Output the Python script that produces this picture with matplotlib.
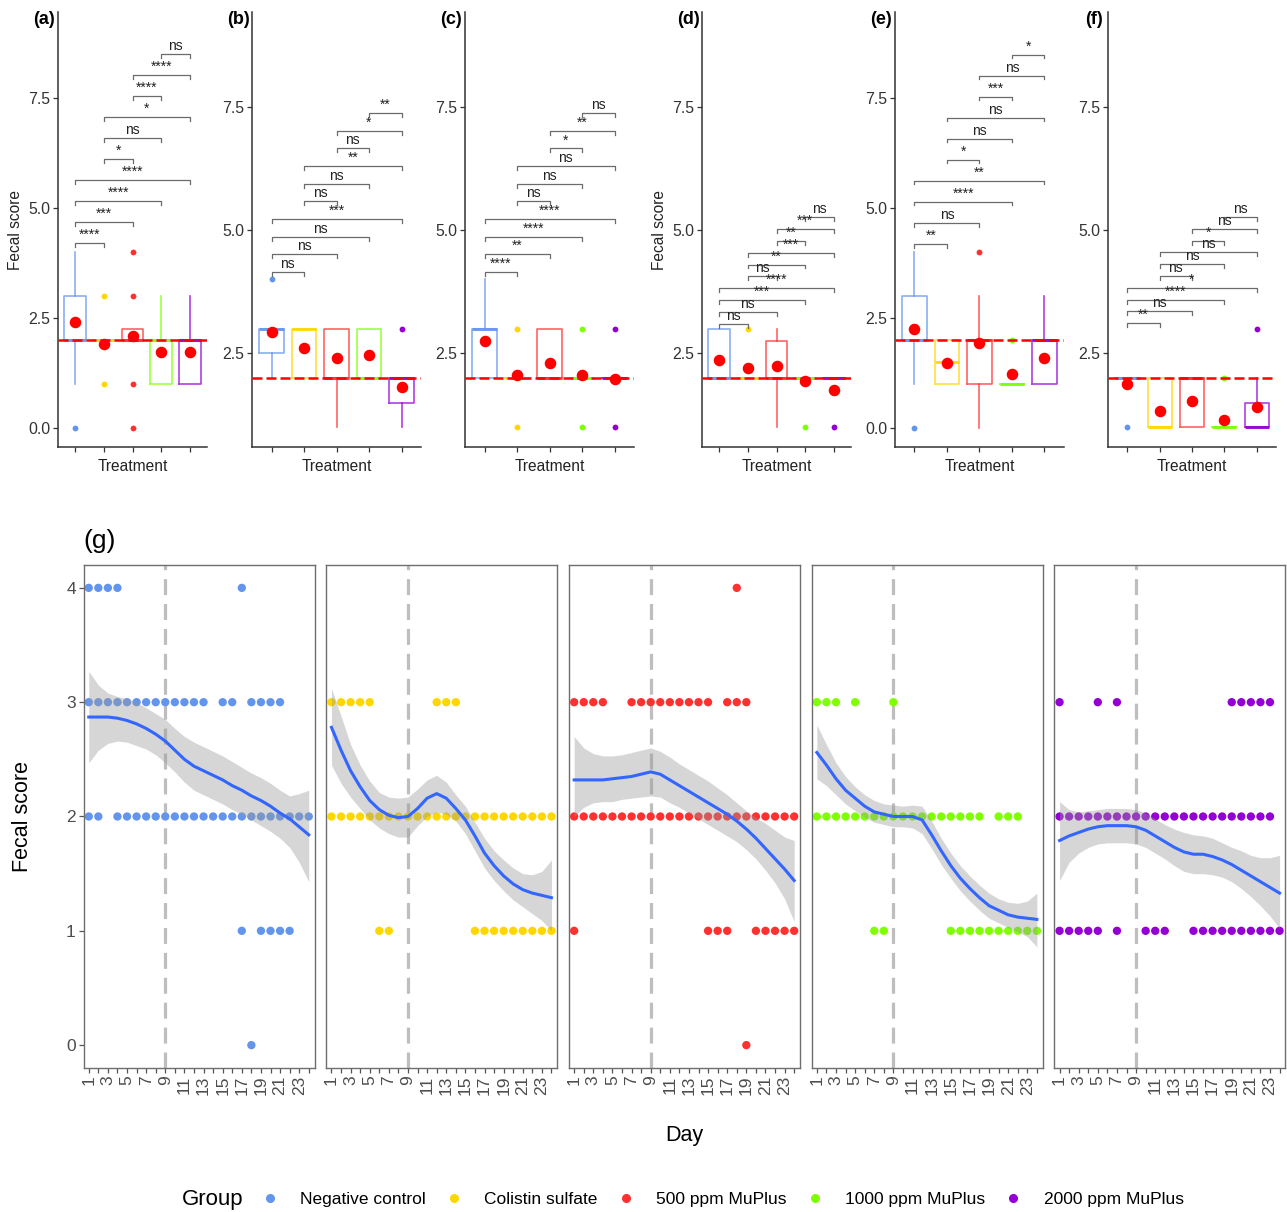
import numpy as np
import matplotlib.pyplot as plt
from matplotlib.lines import Line2D

plt.rcParams['font.family'] = ['Liberation Sans', 'DejaVu Sans']

W, H = 1287, 1212

groups = ['Negative control', 'Colistin sulfate', '500 ppm MuPlus', '1000 ppm MuPlus', '2000 ppm MuPlus']
colors = ['#6495ED', '#FFD700', '#FF3030', '#7FFF00', '#9400D3']

# pairwise comparisons, same order in every panel
pairs = [(1, 2), (1, 3), (1, 4), (1, 5), (2, 3), (2, 4), (2, 5), (3, 4), (3, 5), (4, 5)]

# ---- box plot summaries, panels (a)-(f) ----
q1_a = [2, 2, 2, 1, 1]
med_a = [2, 2, 2, 2, 2]
q3_a = [3, 2, 2.25, 2, 2]
lo_a = [1, 2, 2, 1, 1]
hi_a = [4, 2, 2.25, 3, 3]
mean_a = [2.42, 1.90, 2.08, 1.73, 1.72]
fliers_a = [[0], [1, 3], [0, 1, 3, 4], [], []]
sig_a = ['****', '***', '****', '****', '*', 'ns', '*', '****', '****', 'ns']

q1_b = [2.5, 2, 2, 2, 1.5]
med_b = [3, 3, 2, 2, 2]
q3_b = [3, 3, 3, 3, 2]
lo_b = [2, 2, 1, 2, 1]
hi_b = [3, 3, 3, 3, 2]
mean_b = [2.94, 2.60, 2.40, 2.47, 1.81]
fliers_b = [[4], [], [], [], [3]]
sig_b = ['ns', 'ns', 'ns', '***', 'ns', 'ns', '**', 'ns', '*', '**']

q1_c = [2, 2, 2, 2, 2]
med_c = [3, 2, 2, 2, 2]
q3_c = [3, 2, 3, 2, 2]
lo_c = [2, 2, 2, 2, 2]
hi_c = [4, 2, 3, 2, 2]
mean_c = [2.74, 2.05, 2.31, 2.05, 1.98]
fliers_c = [[], [1, 3], [], [1, 3], [1, 3]]
sig_c = ['****', '**', '****', '****', 'ns', 'ns', 'ns', '*', '**', 'ns']

q1_d = [2, 2, 2, 2, 2]
med_d = [2, 2, 2, 2, 2]
q3_d = [3, 2, 2.75, 2, 2]
lo_d = [2, 2, 1, 2, 2]
hi_d = [3, 2, 3, 2, 2]
mean_d = [2.36, 2.20, 2.24, 1.93, 1.76]
fliers_d = [[], [3], [], [1], [1]]
sig_d = ['ns', 'ns', '***', '****', 'ns', '**', '***', '**', '***', 'ns']

q1_e = [2, 1, 1, 1, 1]
med_e = [2, 1.5, 2, 1, 2]
q3_e = [3, 2, 2, 1, 2]
lo_e = [1, 1, 0, 1, 1]
hi_e = [4, 2, 3, 1, 3]
mean_e = [2.26, 1.48, 1.94, 1.23, 1.60]
fliers_e = [[0], [], [4], [2], []]
sig_e = ['**', 'ns', '****', '**', '*', 'ns', 'ns', '***', 'ns', '*']

q1_f = [2, 1, 1, 1, 1]
med_f = [2, 1, 2, 1, 1]
q3_f = [2, 2, 2, 1, 1.5]
lo_f = [2, 1, 1, 1, 1]
hi_f = [2, 2, 2, 1, 2]
mean_f = [1.88, 1.34, 1.54, 1.15, 1.42]
fliers_f = [[1], [], [], [2], [3]]
sig_f = ['**', 'ns', '****', '*', 'ns', 'ns', 'ns', '*', 'ns', 'ns']

# ---- daily scores, panel (g): days on which a score was seen ----
days = np.arange(1, 25)

nc_4 = [1, 2, 3, 4, 17]
nc_3 = [1, 2, 3, 4, 5, 6, 7, 8, 9, 10, 11, 12, 13, 15, 16, 18, 19, 20, 21]
nc_2 = [1, 2, 4, 5, 6, 7, 8, 9, 10, 11, 12, 13, 14, 15, 16, 17, 18, 19, 20, 21, 22, 23, 24]
nc_1 = [17, 19, 20, 21, 22]
nc_0 = [18]

cs_3 = [1, 2, 3, 4, 5, 12, 13, 14]
cs_2 = [1, 2, 3, 4, 5, 6, 7, 8, 9, 10, 11, 12, 13, 14, 15, 16, 17, 18, 19, 20, 21, 22, 23, 24]
cs_1 = [6, 7, 16, 17, 18, 19, 20, 21, 22, 23, 24]

m500_4 = [18]
m500_3 = [1, 2, 3, 4, 7, 8, 9, 10, 11, 12, 13, 14, 15, 17, 18, 19]
m500_2 = [1, 2, 3, 4, 5, 6, 7, 8, 9, 10, 11, 12, 13, 14, 15, 16, 17, 18, 19, 20, 21, 22, 23, 24]
m500_1 = [1, 15, 16, 17, 20, 21, 22, 23, 24]
m500_0 = [19]

m1000_3 = [1, 2, 3, 5, 9]
m1000_2 = [1, 2, 3, 4, 5, 6, 7, 8, 9, 10, 11, 12, 13, 14, 15, 16, 17, 18, 20, 21, 22]
m1000_1 = [7, 8, 15, 16, 17, 18, 19, 20, 21, 22, 23, 24]

m2000_3 = [1, 5, 7, 19, 20, 21, 22, 23]
m2000_2 = [1, 2, 3, 4, 5, 6, 7, 8, 9, 10, 11, 12, 13, 14, 15, 16, 17, 18, 19, 20, 21, 22, 23]
m2000_1 = [1, 2, 3, 4, 5, 7, 10, 11, 12, 15, 16, 17, 18, 19, 20, 21, 22, 23, 24]

# loess fit and its confidence band, read per day
fit_nc = [2.87, 2.87, 2.87, 2.86, 2.84, 2.81, 2.77, 2.72, 2.66, 2.58, 2.50, 2.44,
          2.40, 2.36, 2.32, 2.27, 2.23, 2.18, 2.14, 2.09, 2.03, 1.98, 1.91, 1.84]
up_nc = [3.27, 3.15, 3.08, 3.05, 3.03, 3.00, 2.95, 2.90, 2.85, 2.77, 2.70, 2.65,
         2.61, 2.57, 2.53, 2.48, 2.43, 2.38, 2.34, 2.29, 2.23, 2.18, 2.20, 2.23]
lo_nc = [2.47, 2.58, 2.64, 2.66, 2.65, 2.62, 2.59, 2.54, 2.47, 2.39, 2.30, 2.23,
         2.19, 2.15, 2.11, 2.06, 2.02, 1.97, 1.92, 1.87, 1.81, 1.73, 1.60, 1.43]

fit_cs = [2.78, 2.58, 2.40, 2.26, 2.14, 2.06, 2.01, 1.99, 2.00, 2.07, 2.16, 2.20,
          2.16, 2.07, 1.97, 1.83, 1.68, 1.57, 1.48, 1.41, 1.36, 1.33, 1.31, 1.29]
up_cs = [3.12, 2.88, 2.63, 2.45, 2.31, 2.21, 2.17, 2.16, 2.17, 2.24, 2.32, 2.36,
         2.30, 2.19, 2.09, 1.95, 1.81, 1.70, 1.62, 1.55, 1.50, 1.49, 1.52, 1.62]
lo_cs = [2.45, 2.29, 2.17, 2.07, 1.97, 1.90, 1.85, 1.82, 1.82, 1.92, 2.00, 2.04,
         2.02, 1.96, 1.85, 1.70, 1.55, 1.44, 1.35, 1.27, 1.21, 1.15, 1.09, 1.00]

fit_500 = [2.32, 2.32, 2.32, 2.32, 2.33, 2.34, 2.35, 2.37, 2.39, 2.37, 2.32, 2.27,
           2.22, 2.17, 2.12, 2.07, 2.02, 1.96, 1.89, 1.81, 1.72, 1.63, 1.54, 1.44]
up_500 = [2.70, 2.60, 2.55, 2.53, 2.53, 2.54, 2.56, 2.58, 2.60, 2.57, 2.52, 2.46,
          2.41, 2.36, 2.31, 2.25, 2.19, 2.12, 2.05, 1.99, 1.94, 1.88, 1.82, 1.79]
lo_500 = [2.00, 2.08, 2.12, 2.13, 2.13, 2.15, 2.16, 2.17, 2.18, 2.17, 2.12, 2.08,
          2.03, 1.98, 1.93, 1.88, 1.83, 1.78, 1.71, 1.63, 1.53, 1.42, 1.28, 1.08]

fit_1000 = [2.56, 2.45, 2.33, 2.23, 2.16, 2.09, 2.04, 2.02, 2.00, 2.00, 2.00, 1.97,
            1.84, 1.70, 1.57, 1.46, 1.37, 1.29, 1.22, 1.18, 1.14, 1.12, 1.11, 1.10]
up_1000 = [2.80, 2.63, 2.47, 2.35, 2.26, 2.19, 2.14, 2.11, 2.10, 2.09, 2.10, 2.09,
           1.96, 1.81, 1.68, 1.57, 1.48, 1.40, 1.33, 1.28, 1.25, 1.24, 1.26, 1.33]
lo_1000 = [2.33, 2.27, 2.19, 2.11, 2.05, 1.99, 1.95, 1.93, 1.91, 1.91, 1.90, 1.85,
           1.72, 1.58, 1.46, 1.35, 1.26, 1.18, 1.11, 1.07, 1.03, 0.99, 0.95, 0.86]

fit_2000 = [1.79, 1.83, 1.86, 1.89, 1.91, 1.92, 1.92, 1.92, 1.91, 1.88, 1.83, 1.78,
            1.73, 1.69, 1.67, 1.67, 1.65, 1.62, 1.58, 1.53, 1.48, 1.43, 1.38, 1.33]
up_2000 = [2.13, 2.06, 2.04, 2.05, 2.06, 2.07, 2.07, 2.07, 2.06, 2.03, 1.98, 1.93,
           1.89, 1.86, 1.84, 1.83, 1.81, 1.77, 1.73, 1.70, 1.66, 1.64, 1.64, 1.66]
lo_2000 = [1.44, 1.60, 1.68, 1.73, 1.76, 1.77, 1.77, 1.77, 1.76, 1.73, 1.68, 1.63,
           1.57, 1.52, 1.50, 1.50, 1.49, 1.47, 1.43, 1.37, 1.30, 1.22, 1.13, 1.02]


fig = plt.figure(figsize=(W / 100, H / 100), dpi=100)

def px_axes(left, right, top, bottom):
    return fig.add_axes([left / W, 1 - bottom / H, (right - left) / W, (bottom - top) / H])

# ---------------- top row of box plots ----------------
top_panels = [
    ('(a)', 58, 207, q1_a, med_a, q3_a, lo_a, hi_a, mean_a, fliers_a, sig_a, 4.20, 0.477, True),
    ('(b)', 252, 421, q1_b, med_b, q3_b, lo_b, hi_b, mean_b, fliers_b, sig_b, 4.15, 0.358, False),
    ('(c)', 465, 634, q1_c, med_c, q3_c, lo_c, hi_c, mean_c, fliers_c, sig_c, 4.15, 0.358, False),
    ('(d)', 702, 851, q1_d, med_d, q3_d, lo_d, hi_d, mean_d, fliers_d, sig_d, 3.10, 0.240, True),
    ('(e)', 895, 1064, q1_e, med_e, q3_e, lo_e, hi_e, mean_e, fliers_e, sig_e, 4.18, 0.478, False),
    ('(f)', 1108, 1276, q1_f, med_f, q3_f, lo_f, hi_f, mean_f, fliers_f, sig_f, 3.11, 0.239, False),
]

for tag, left, right, q1, med, q3, lo, hi, means, fl, sigs, y0, step, ylab in top_panels:
    ax = px_axes(left, right, 12, 447)
    for i in range(5):
        st = dict(q1=q1[i], med=med[i], q3=q3[i], whislo=lo[i], whishi=hi[i], fliers=fl[i])
        ax.bxp([st], positions=[i + 1], widths=0.75, showcaps=False,
               boxprops=dict(color=colors[i], lw=1.2, alpha=0.75),
               medianprops=dict(color=colors[i], lw=2.2, alpha=0.9),
               whiskerprops=dict(color=colors[i], lw=1.2, alpha=0.75),
               flierprops=dict(marker='o', markerfacecolor=colors[i], markeredgecolor='none',
                               markersize=4.2))
    ax.axhline(2, color='#FF0000', lw=1.8, ls=(0, (4, 1.6)), zorder=4)
    ax.plot(np.arange(1, 6), means, 'o', color='#FF0000', markersize=7.3, zorder=5)

    for k, (i, j) in enumerate(pairs):
        y = y0 + k * step
        ax.plot([i, i, j, j], [y - 0.08, y, y, y - 0.08], color='#6b6b6b', lw=0.9)
        ax.text((i + j) / 2, y + 0.02, sigs[k], ha='center', va='bottom', fontsize=10,
                color='#222222')

    lowest = min(min(lo), min([v for f in fl for v in f] + [9]))
    if lowest < 1:
        ax.set_ylim(-0.43, 9.45)
        ax.set_yticks([0, 2.5, 5, 7.5])
    else:
        ax.set_ylim(0.6, 9.42)
        ax.set_yticks([2.5, 5, 7.5])
    ax.yaxis.set_major_formatter(plt.FormatStrFormatter('%.1f'))
    ax.set_xlim(0.4, 5.6)
    ax.set_xticks(np.arange(1, 6))
    ax.set_xticklabels([])
    ax.set_xlabel('Treatment', fontsize=11.2, color='#222222', labelpad=3)
    if ylab:
        ax.set_ylabel('Fecal score', fontsize=11.2, color='#222222', labelpad=4)
    for s in ['top', 'right']:
        ax.spines[s].set_visible(False)
    for s in ['left', 'bottom']:
        ax.spines[s].set_color('#333333')
        ax.spines[s].set_linewidth(1.1)
    ax.tick_params(length=3.5, width=0.9, color='#333333', labelsize=11.4, labelcolor='#333333', pad=2)
    fig.text((left - 14) / W, 1 - 20 / H, tag, ha='center', va='center', fontsize=13, fontweight='bold')

# ---------------- panel (g): daily scores ----------------
facets = [
    (colors[0], [nc_0, nc_1, nc_2, nc_3, nc_4], fit_nc, up_nc, lo_nc),
    (colors[1], [[], cs_1, cs_2, cs_3, []], fit_cs, up_cs, lo_cs),
    (colors[2], [m500_0, m500_1, m500_2, m500_3, m500_4], fit_500, up_500, lo_500),
    (colors[3], [[], m1000_1, m1000_2, m1000_3, []], fit_1000, up_1000, lo_1000),
    (colors[4], [[], m2000_1, m2000_2, m2000_3, []], fit_2000, up_2000, lo_2000),
]

facet_left = [83.5, 326.2, 568.9, 811.6, 1054.3]
for n, (col, levels, fit, up, lo) in enumerate(facets):
    ax = px_axes(facet_left[n], facet_left[n] + 231, 565, 1068)
    ax.axvline(9, color='#BEBEBE', lw=2.3, ls=(0, (5, 2.8)), zorder=1)
    for score, dl in enumerate(levels):
        if len(dl):
            ax.scatter(dl, [score] * len(dl), s=36, color=col, edgecolors='none', zorder=2)
    ax.fill_between(days, lo, up, color='#999999', alpha=0.4, lw=0, zorder=3)
    ax.plot(days, fit, color='#3366FF', lw=2.2, zorder=4)
    ax.set_xlim(0.45, 24.6)
    ax.set_ylim(-0.2, 4.2)
    ax.set_xticks(days)
    ax.set_xticklabels([str(d) if d % 2 == 1 else '' for d in days], rotation=90)
    ax.set_yticks([0, 1, 2, 3, 4])
    for s in ax.spines.values():
        s.set_color('#6e6e6e')
        s.set_linewidth(1.0)
    ax.tick_params(length=3.5, width=0.9, color='#555555', labelsize=12.5, labelcolor='#4D4D4D', pad=2)
    if n > 0:
        ax.tick_params(axis='y', left=False, labelleft=False)

fig.text(83 / W, 1 - 541 / H, '(g)', ha='left', va='center', fontsize=19)
fig.text(22 / W, 1 - 816 / H, 'Fecal score', rotation=90, ha='center', va='center', fontsize=15.5)
fig.text(684 / W, 1 - 1136 / H, 'Day', ha='center', va='center', fontsize=15.5)

# legend along the bottom
fig.text(213 / W, 1 - 1199 / H, 'Group', ha='center', va='center', fontsize=16)
handles = [Line2D([], [], marker='o', ls='none', color=c, markersize=5.5) for c in colors]
fig.legend(handles, groups, loc='center left', bbox_to_anchor=(261 / W, 1 - 1199 / H), ncol=5,
           frameon=False, fontsize=12.5, handlelength=1.0, handletextpad=1.25, columnspacing=1.12,
           borderpad=0, borderaxespad=0)

fig.savefig('out.png', dpi=100, facecolor='white')
